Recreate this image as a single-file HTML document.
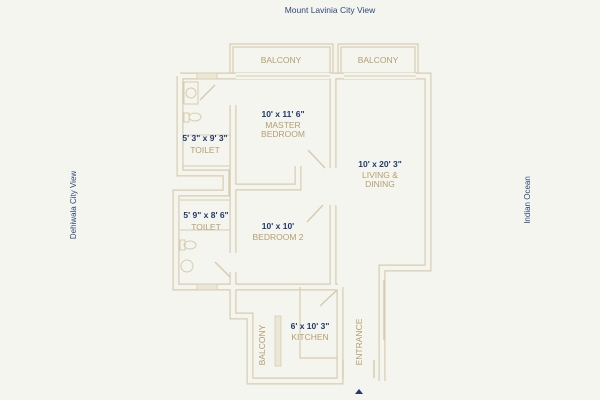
<!DOCTYPE html>
<html><head><meta charset="utf-8"><style>
html,body{margin:0;padding:0;background:#f5f5f0;}
svg{display:block;}
text{font-family:"Liberation Sans",sans-serif;}
.n{fill:#1f3a6b;font-size:8.5px;font-weight:bold;text-anchor:middle;}
.t{fill:#b39e6e;font-size:8.5px;text-anchor:middle;}
.w{fill:none;stroke:#d6ccae;stroke-width:1.2;}
.wt{fill:none;stroke:#d6ccae;stroke-width:7;stroke-linejoin:miter;}
.wi{fill:none;stroke:#f5f5f0;stroke-width:4.6;stroke-linejoin:miter;}
</style></head><body>
<svg width="600" height="400" viewBox="0 0 600 400">
<rect width="600" height="400" fill="#f5f5f0"/>
<text x="330" y="13" fill="#2c4a78" font-size="8.5" text-anchor="middle">Mount Lavinia City View</text>
<text transform="translate(76,205) rotate(-90)" fill="#2c4a78" font-size="8" text-anchor="middle">Dehiwala City View</text>
<text transform="translate(530,200) rotate(-90)" fill="#2c4a78" font-size="8" text-anchor="middle">Indian Ocean</text>

<rect x="230" y="44" width="103" height="32" class="w"/>
<rect x="233" y="47" width="97" height="29" class="w"/>
<rect x="338" y="44" width="80" height="32" class="w"/>
<rect x="341" y="47" width="74" height="29" class="w"/>

<g>
<path d="M180,76 H428 V268 H382 V381" class="wt"/>
<path d="M180,76 V173 H226 V193 H176 V287 H233" class="wt"/>
<path d="M233,287 H338" class="wt"/>
<path d="M233,287 V316 H250 V381 H340 V287" class="wt"/>
<path d="M333,76 V168 M333,205 V287" class="wt"/>
<path d="M233,105 V187 M233,187 V253 M233,272 V287" class="wt"/>
<path d="M233,187 H298 V166" class="wt"/>
<path d="M180,76 H428 V268 H382 V381" class="wi"/>
<path d="M180,76 V173 H226 V193 H176 V287 H233" class="wi"/>
<path d="M233,287 H338" class="wi"/>
<path d="M233,287 V316 H250 V381 H340 V287" class="wi"/>
<path d="M333,76 V168 M333,205 V287" class="wi"/>
<path d="M233,105 V187 M233,187 V253 M233,272 V287" class="wi"/>
<path d="M233,187 H298 V166" class="wi"/>
</g>
<rect x="236" y="73" width="94" height="6" fill="#f5f5f0"/>
<line x1="236" y1="76" x2="330" y2="76" stroke="#d6ccae" stroke-width="1"/>
<rect x="344" y="73" width="72" height="6" fill="#f5f5f0"/>
<line x1="344" y1="76" x2="416" y2="76" stroke="#d6ccae" stroke-width="1"/>
<rect x="197" y="73" width="20" height="6" fill="#ebe6d6" stroke="#d6ccae" stroke-width="0.8"/>
<rect x="197" y="284" width="20" height="6" fill="#ebe6d6" stroke="#d6ccae" stroke-width="0.8"/>
<rect x="275" y="316" width="6" height="50" fill="#ebe6d6" stroke="#d6ccae" stroke-width="0.8"/>
<path d="M300,287 V358 H337" class="w"/>
<g stroke="#d6ccae" stroke-width="1.5">
<line x1="215" y1="85" x2="200" y2="100"/>
<line x1="308" y1="150" x2="325" y2="168"/>
<line x1="323" y1="205" x2="307" y2="222"/>
<line x1="215" y1="262" x2="230" y2="277"/>
<line x1="337" y1="290" x2="320" y2="306"/>
<line x1="384" y1="280" x2="384" y2="340"/>
<line x1="343" y1="360" x2="343" y2="378"/>
<line x1="374" y1="360" x2="374" y2="378"/>
</g>
<g fill="none" stroke="#d6ccae" stroke-width="1">
<rect x="184" y="82" width="14" height="22"/><circle cx="191" cy="93" r="5"/>
<rect x="184" y="113" width="5" height="9"/><ellipse cx="195" cy="117" rx="6" ry="4"/>
<line x1="183" y1="135" x2="230" y2="135"/>
<line x1="183" y1="166" x2="230" y2="166"/>
<line x1="180" y1="200" x2="230" y2="200"/>
<line x1="180" y1="230" x2="230" y2="230"/>
<rect x="180" y="240" width="5" height="10"/><ellipse cx="190" cy="245" rx="6" ry="4"/>
<circle cx="187" cy="266" r="6"/>
</g>
<text x="281" y="63" class="t">BALCONY</text>
<text x="378" y="63" class="t">BALCONY</text>
<text x="283" y="117" class="n">10' x 11' 6"</text>
<text x="283" y="128" class="t">MASTER</text>
<text x="283" y="137" class="t">BEDROOM</text>
<text x="205" y="141" class="n">5' 3" x 9' 3"</text>
<text x="205" y="153" class="t">TOILET</text>
<text x="380" y="167" class="n">10' x 20' 3"</text>
<text x="380" y="178" class="t">LIVING &amp;</text>
<text x="380" y="187" class="t">DINING</text>
<text x="206" y="218" class="n">5' 9" x 8' 6"</text>
<text x="206" y="230" class="t">TOILET</text>
<text x="278" y="229" class="n">10' x 10'</text>
<text x="278" y="240" class="t">BEDROOM 2</text>
<text x="310" y="329" class="n">6' x 10' 3"</text>
<text x="310" y="340" class="t">KITCHEN</text>
<text transform="translate(265,345) rotate(-90)" class="t" font-size="8">BALCONY</text>
<text transform="translate(362,342) rotate(-90)" class="t" font-size="8.5">ENTRANCE</text>
<path d="M355,394 L359,389 L363,394 Z" fill="#1f3a6b"/>
</svg>
</body></html>
